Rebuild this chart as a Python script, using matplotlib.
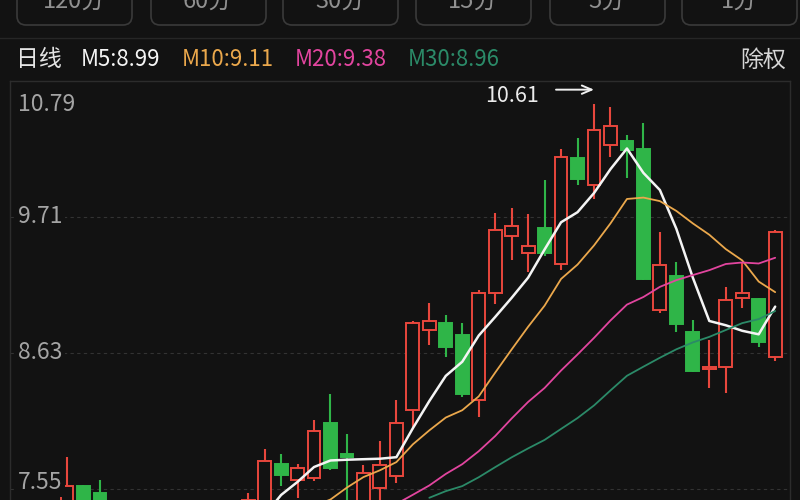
import numpy as np
import pandas as pd
import matplotlib
matplotlib.use('Agg')
import matplotlib.pyplot as plt
from matplotlib.patches import FancyBboxPatch
from matplotlib.transforms import offset_copy, blended_transform_factory

plt.rcParams['font.family'] = ['Noto Sans CJK SC', 'DejaVu Sans']

# daily candles (first ones sit below / left of the visible window)
day = np.arange(-7, 44)
open_ = [7.15, 7.10, 7.10, 7.00, 7.20, 7.30, 7.35,
         7.40, 7.57, 7.52, 7.40, 6.85, 6.78, 7.05, 7.20, 6.88, 6.86, 7.20,
         7.30, 7.42, 7.75, 7.62, 7.64, 8.07, 7.83, 7.44, 7.56, 7.65,
         8.18, 8.81, 8.87, 8.77, 8.26, 9.11, 9.56, 9.42, 9.62, 9.34,
         10.18, 9.96, 10.28, 10.31, 10.25, 8.97, 9.24, 8.80, 8.50, 8.52,
         9.07, 9.06, 8.60]
high = [7.20, 7.20, 7.15, 7.25, 7.35, 7.42, 7.44,
        7.80, 7.58, 7.62, 7.44, 6.95, 7.10, 7.25, 7.22, 6.95, 7.25, 7.45,
        7.52, 7.87, 7.83, 7.75, 8.10, 8.30, 7.99, 7.74, 7.93, 8.26,
        8.88, 9.03, 8.93, 8.87, 9.13, 9.74, 9.78, 9.73, 10.00, 10.25,
        10.34, 10.61, 10.58, 10.36, 10.46, 9.59, 9.35, 8.89, 8.73, 9.15,
        9.35, 9.07, 9.61]
low = [7.00, 7.00, 6.95, 6.98, 7.15, 7.25, 7.30,
       7.35, 7.38, 7.36, 6.80, 6.70, 6.75, 7.00, 6.80, 6.78, 6.85, 7.15,
       7.25, 7.38, 7.57, 7.48, 7.61, 7.70, 7.40, 7.40, 7.46, 7.60,
       8.04, 8.69, 8.60, 8.28, 8.12, 9.02, 9.37, 9.27, 9.40, 9.29,
       9.96, 9.85, 10.19, 10.02, 9.21, 8.95, 8.80, 8.48, 8.35, 8.31,
       8.99, 8.68, 8.57]
close = [7.10, 7.10, 7.00, 7.20, 7.30, 7.35, 7.40,
         7.57, 7.42, 7.40, 6.85, 6.75, 7.05, 7.20, 6.85, 6.85, 7.20, 7.42,
         7.46, 7.77, 7.66, 7.72, 8.01, 7.72, 7.80, 7.68, 7.74, 8.07,
         8.87, 8.88, 8.68, 8.30, 9.11, 9.61, 9.64, 9.48, 9.42, 10.19,
         10.01, 10.40, 10.43, 10.24, 9.22, 9.33, 8.86, 8.49, 8.52, 9.05,
         9.11, 8.72, 9.59]

periods = [5, 10, 20, 30]
ma_labels = ['M5:8.99', 'M10:9.11', 'M20:9.38', 'M30:8.96']
ma_colors = ['#f4f4f4', '#eba84c', '#e2459f', '#2b8a68']
ma_widths = [1.8, 1.3, 1.3, 1.3]
price_ticks = [10.79, 9.71, 8.63, 7.55]
buttons = ['120分', '60分', '30分', '15分', '5分', '1分']
kline_name = '日线'
adjust_name = '除权'

bg = '#121212'
up_col = '#e8473d'
down_col = '#2fb548'

fig = plt.figure(figsize=(8, 5), dpi=100, facecolor=bg)

#%% overlay in pixel units for the app header
top = fig.add_axes([0, 0, 1, 1], zorder=0)
top.set_xlim(0, 800)
top.set_ylim(500, 0)
top.axis('off')

btn_left = [17, 151, 283, 416, 550, 682]
for x0, name in zip(btn_left, buttons):
    box = FancyBboxPatch((x0, -30), 115, 55, boxstyle='round,pad=0,rounding_size=9',
                         fc='none', ec='#3a3a3a', lw=1.2)
    top.add_patch(box)
    top.text(x0 + 57, 8, name, color='#909090', fontsize=17, ha='center', va='baseline')
top.axhline(38, color='#262626', lw=1)

top.text(16, 60, kline_name, color='#e4e4e4', fontsize=16.5, ha='left', va='center')
for x0, lab, col in zip([81, 182, 295, 408], ma_labels, ma_colors):
    top.text(x0, 60, lab, color=col, fontsize=16, ha='left', va='center')
top.text(786, 60, adjust_name, color='#d6d6d6', fontsize=16.5, ha='right', va='center')

#%% price panel
ax = fig.add_axes([10 / 800, 0, 780 / 800, 419 / 500], zorder=1)
ax.set_facecolor(bg)
ax.set_xlim(-3.46, 43.9)
ax.set_ylim(7.462, 10.79)
ax.set_xticks([])
ax.set_yticks([])
for side in ['top', 'left', 'right']:
    ax.spines[side].set_color('#2c2c2c')
    ax.spines[side].set_linewidth(1)
ax.spines['bottom'].set_visible(False)

for p in price_ticks[1:]:
    ax.axhline(p, color='#333333', lw=0.8, ls=(0, (3, 3)), zorder=0)

o = np.array(open_)
c = np.array(close)
rising = c >= o
cols = np.where(rising, up_col, down_col)
faces = np.where(rising, bg, down_col)

ax.vlines(day, low, high, colors=cols, lw=1.5, zorder=2)
ax.bar(day, np.abs(c - o), bottom=np.minimum(o, c), width=0.78,
       color=faces, edgecolor=cols, linewidth=1.4, zorder=3)

s = pd.Series(close, index=day)
for n, col, lw in zip(periods, ma_colors, ma_widths):
    ma = s.rolling(n).mean()
    ax.plot(day, ma.values, color=col, lw=lw, zorder=4, solid_capstyle='round')

# axis labels inside the panel
trans = blended_transform_factory(ax.transAxes, ax.transData)
for k, p in enumerate(price_ticks):
    dy = 0
    if k == 0:
        dy = -23
    elif k == len(price_ticks) - 1:
        dy = 6
    ax.annotate(f'{p:.2f}', xy=(0, p), xycoords=trans, xytext=(8, dy),
                textcoords='offset pixels', color='#a4a4a4', fontsize=16.5,
                ha='left', va='center', zorder=5,
                bbox=dict(boxstyle='square,pad=0.1', fc=bg, ec='none'))

# highest price marker
imax = int(np.argmax(high))
hmax = high[imax]
arrow_tr = offset_copy(ax.transData, fig=fig, x=0, y=14, units='dots')
ax.annotate('', xy=(day[imax], hmax), xycoords=arrow_tr, xytext=(-38, 0),
            textcoords='offset pixels',
            arrowprops=dict(arrowstyle='->,head_length=0.7,head_width=0.3',
                            color='#f0f0f0', lw=1.4, shrinkA=0, shrinkB=0))
ax.annotate(f'{hmax:.2f}', xy=(day[imax], hmax), xycoords=arrow_tr, xytext=(-55, -6),
            textcoords='offset pixels', color='#ececec', fontsize=15.5,
            ha='right', va='center')

fig.savefig('out.png', dpi=100, facecolor=bg)
